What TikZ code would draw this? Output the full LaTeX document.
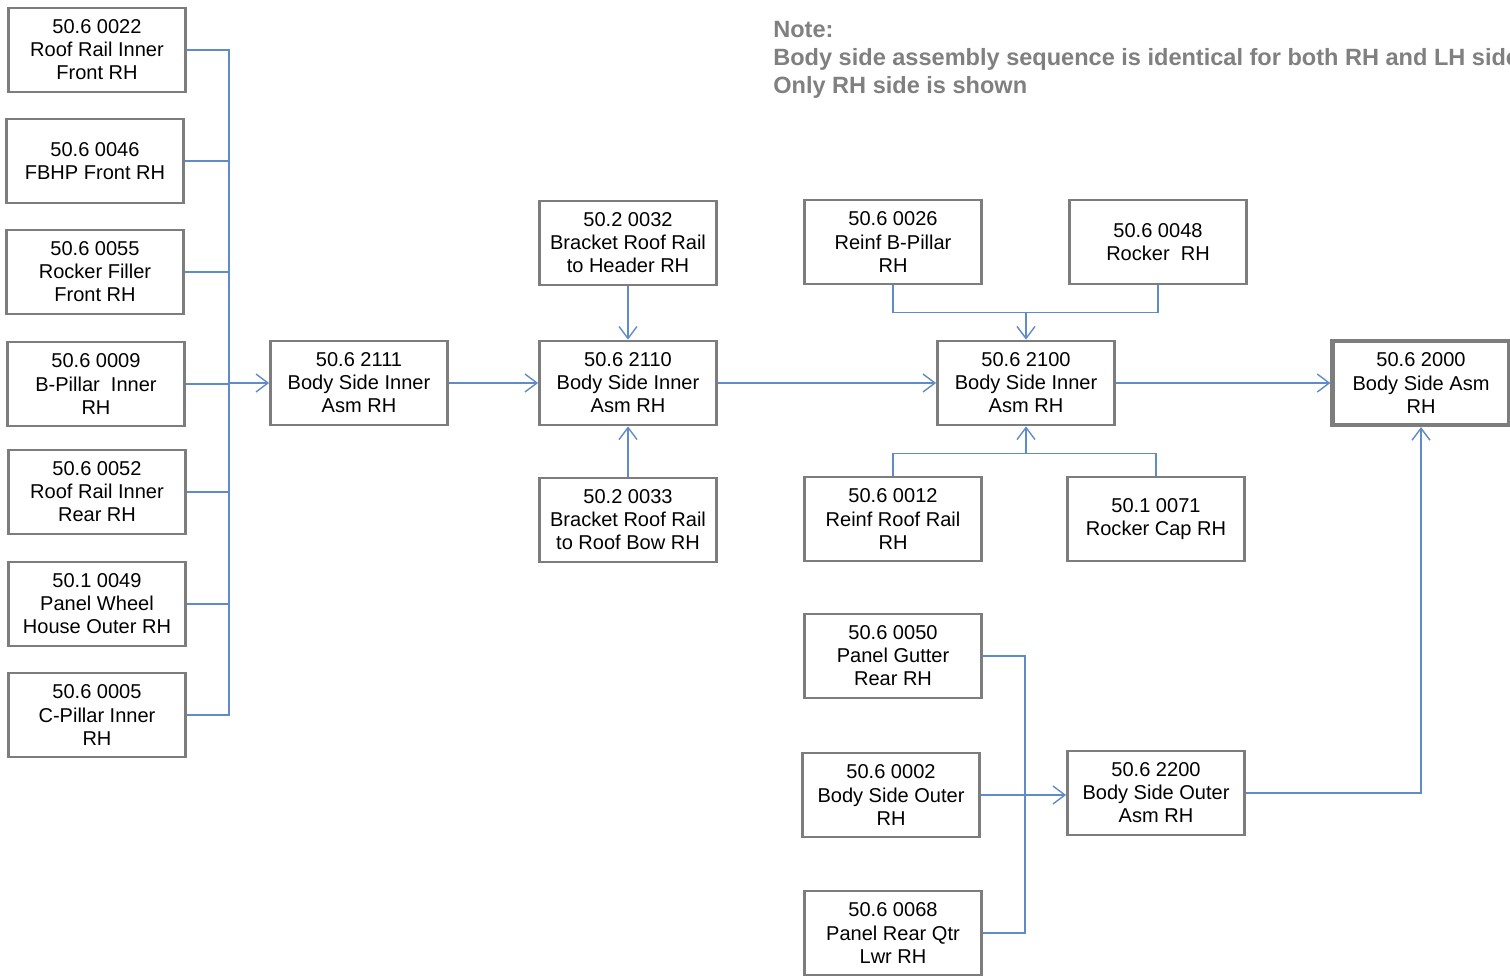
\documentclass[tikz,border=0pt]{standalone}
\usepackage{fontspec}
\setmainfont{Liberation Sans}
\usepackage{xcolor}
\usepackage{tikz}
\usetikzlibrary{arrows.meta,positioning,calc}

\definecolor{linkblue}{RGB}{95,140,200}
\definecolor{boxgray}{RGB}{125,125,125}
\definecolor{notegray}{RGB}{128,128,128}

\tikzset{
    part/.style={draw=boxgray, line width=1.6pt, minimum width=3.54cm, minimum height=1.68cm,
        inner sep=0pt, align=center, font=\fontsize{11.4}{13.1}\selectfont},
    link/.style={draw=linkblue, line width=0.8pt},
    feed/.style={link, -{Straight Barb[length=2.4mm,width=3.6mm]}}
}

\begin{document}
\begin{tikzpicture}[x=0.02cm, y=-0.02cm]
    \useasboundingbox (0,0) rectangle (1510,978);

    % Note
    \node[anchor=north west, inner sep=0pt, align=left, text=notegray,
        font=\fontsize{13.4}{15.9}\selectfont\bfseries] (note) at (773,21)
        {Note:\\Body side assembly sequence is identical for both RH and LH side\\Only RH side is shown};

    % Inner panels (left column)
    \node[part] (p0022) at (97,50) {50.6 0022\\Roof Rail Inner\\Front RH};
    \node[part] (p0046) at (95,161) {50.6 0046\\FBHP Front RH};
    \node[part] (p0055) at (95,272) {50.6 0055\\Rocker Filler\\Front RH};
    \node[part] (p0009) at (96,384) {50.6 0009\\B-Pillar\ \ Inner\\RH};
    \node[part] (p0052) at (97,492) {50.6 0052\\Roof Rail Inner\\Rear RH};
    \node[part] (p0049) at (97,604) {50.1 0049\\Panel Wheel\\House Outer RH};
    \node[part] (p0005) at (97,715) {50.6 0005\\C-Pillar Inner\\RH};

    % Inner sub-assemblies
    \node[part] (p2111) at (359,383) {50.6 2111\\Body Side Inner\\Asm RH};
    \node[part] (p2110) at (628,383) {50.6 2110\\Body Side Inner\\Asm RH};
    \node[part] (p0032) at (628,243) {50.2 0032\\Bracket Roof Rail\\to Header RH};
    \node[part] (p0033) at (628,520) {50.2 0033\\Bracket Roof Rail\\to Roof Bow RH};

    \node[part] (p0026) at (893,242) {50.6 0026\\Reinf B-Pillar\\RH};
    \node[part] (p0048) at (1158,242) {50.6 0048\\Rocker\ \ RH};
    \node[part] (p2100) at (1026,383) {50.6 2100\\Body Side Inner\\Asm RH};
    \node[part] (p0012) at (893,519) {50.6 0012\\Reinf Roof Rail\\RH};
    \node[part] (p0071) at (1156,519) {50.1 0071\\Rocker Cap RH};

    % Final assembly
    \node[part, line width=2.4pt] (p2000) at (1421,383) {50.6 2000\\Body Side Asm\\RH};

    % Outer panels
    \node[part] (p0050) at (893,656) {50.6 0050\\Panel Gutter\\Rear RH};
    \node[part] (p0002) at (891,795) {50.6 0002\\Body Side Outer\\RH};
    \node[part] (p0068) at (893,933) {50.6 0068\\Panel Rear Qtr\\Lwr RH};
    \node[part] (p2200) at (1156,793) {50.6 2200\\Body Side Outer\\Asm RH};

    % Left bus into 2111
    \coordinate (bus) at (229,0);
    \draw[link] (p0022.east) -- (p0022.east -| bus) -- (p0005.east -| bus) -- (p0005.east);
    \foreach \p in {p0046,p0055,p0009,p0052,p0049}
        \draw[link] (\p.east) -- (\p.east -| bus);
    \draw[feed] (p2111.west -| bus) -- (p2111.west);

    % Inner chain
    \draw[feed] (p2111.east) -- (p2110.west);
    \draw[feed] (p0032.south) -- (p2110.north);
    \draw[feed] (p0033.north) -- (p2110.south);
    \draw[feed] (p2110.east) -- (p2100.west);

    \coordinate (jtop) at ($(p2100.north)+(0,-27)$);
    \draw[link] (p0026.south) |- (jtop) -| (p0048.south);
    \draw[feed] (jtop) -- (p2100.north);
    \coordinate (jbot) at ($(p2100.south)+(0,27)$);
    \draw[link] (p0012.north) |- (jbot) -| (p0071.north);
    \draw[feed] (jbot) -- (p2100.south);

    \draw[feed] (p2100.east) -- (p2100.east -| p2000.west);

    % Outer chain
    \coordinate (obus) at (1025,0);
    \draw[link] (p0050.east) -- (p0050.east -| obus) -- (p0068.east -| obus) -- (p0068.east);
    \draw[feed] (p0002.east) -- (p0002.east -| p2200.west);
    \draw[feed] (p2200.east) -| (p2000.south);

\end{tikzpicture}
\end{document}
